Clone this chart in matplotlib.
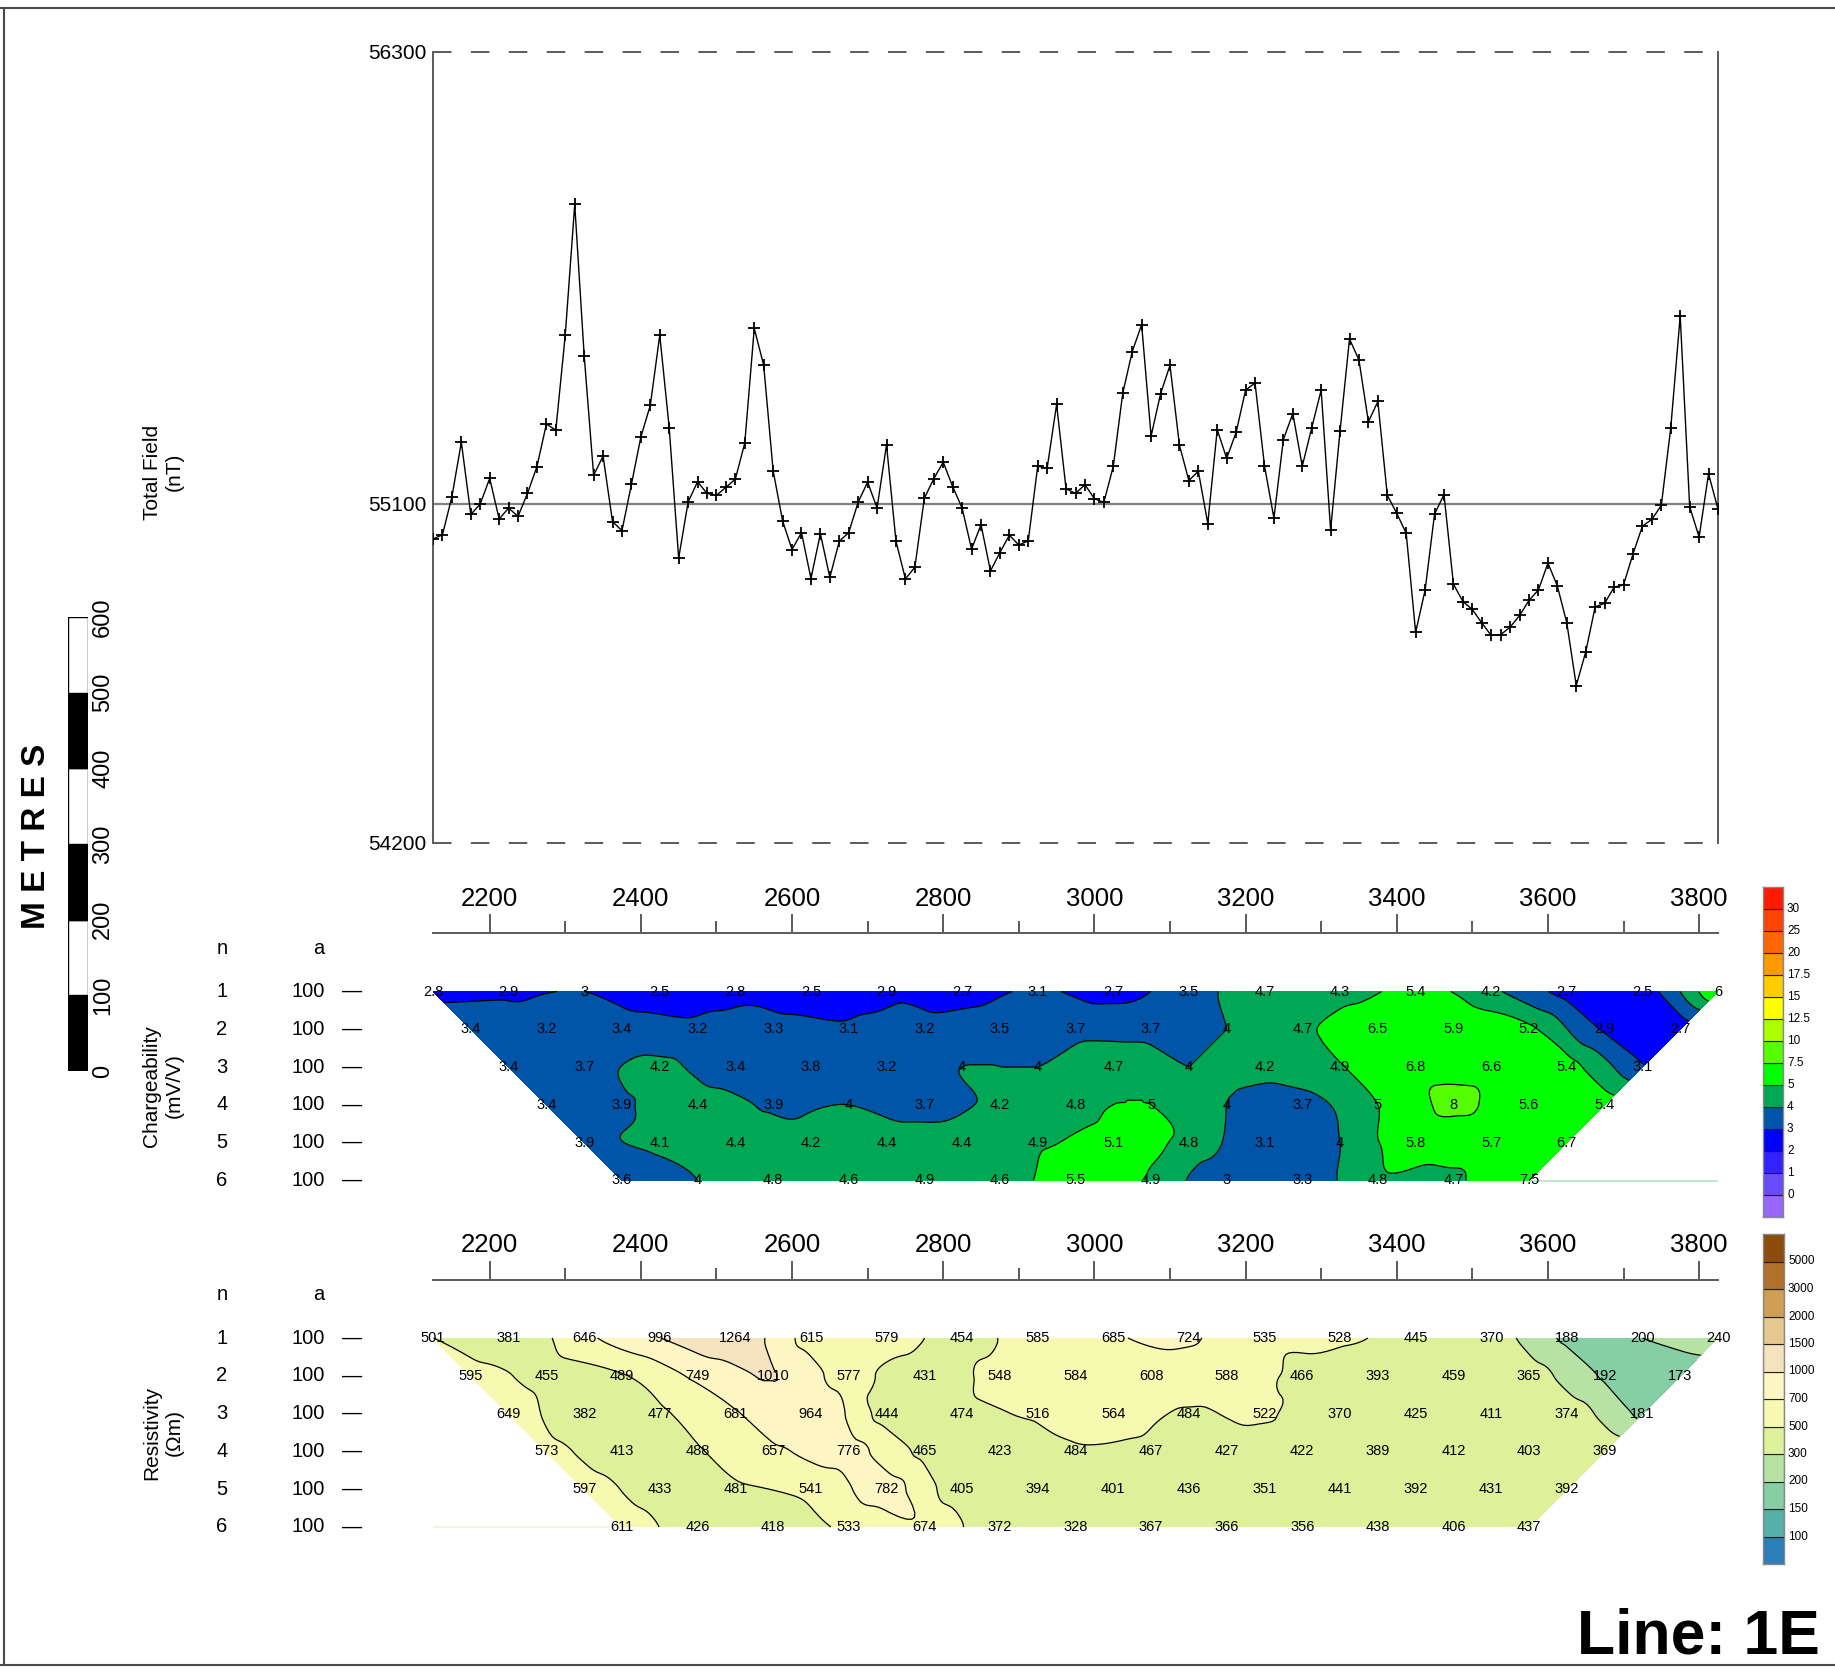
import numpy as np
import matplotlib
matplotlib.use("Agg")
import matplotlib.pyplot as plt
from matplotlib.tri import Triangulation, UniformTriRefiner, CubicTriInterpolator
from matplotlib.colors import ListedColormap, BoundaryNorm
from matplotlib.patches import Rectangle
from matplotlib.lines import Line2D
from matplotlib.ticker import FixedLocator, MultipleLocator

plt.rcParams["font.family"] = ["Liberation Sans", "DejaVu Sans"]
plt.rcParams["lines.scale_dashes"] = False

# ---------------------------------------------------------------- data
# Total magnetic field, readings every 12.5 m starting at station 2125
MAG_START = 2125.0
MAG_STEP = 12.5
mag_nt = [
    55006, 55017, 55118, 55263, 55071, 55099, 55167, 55059, 55088, 55066,
    55127, 55198, 55311, 55295, 55548, 55894, 55493, 55175, 55226, 55052,
    55028, 55151, 55277, 55361, 55547, 55301, 54955, 55104, 55158, 55127,
    55122, 55143, 55165, 55261, 55565, 55467, 55187, 55054, 54978, 55023,
    54901, 55020, 54904, 55000, 55023, 55104, 55157, 55088, 55256, 55000,
    54900, 54931, 55114, 55166, 55210, 55145, 55088, 54979, 55044, 54921,
    54970, 55016, 54990, 55001, 55199, 55194, 55363, 55139, 55127, 55150,
    55113, 55103, 55199, 55393, 55503, 55575, 55279, 55391, 55467, 55255,
    55161, 55186, 55047, 55296, 55220, 55289, 55401, 55420, 55201, 55061,
    55270, 55339, 55199, 55301, 55401, 55030, 55293, 55537, 55481, 55317,
    55371, 55122, 55074, 55021, 54758, 54870, 55072, 55124, 54886, 54840,
    54819, 54783, 54750, 54752, 54772, 54803, 54843, 54871, 54942, 54881,
    54783, 54617, 54706, 54826, 54835, 54878, 54884, 54966, 55040, 55058,
    55095, 55301, 55598, 55092, 55011, 55179, 55085,
]
mag_ticks = [54200, 55100, 56300]
mag_base = 55100

# Dipole-dipole pseudosections (a = 100 m), first n=1 plot point at 2125
SEC_START = 2125.0
chg_n1 = [2.8, 2.9, 3, 2.5, 2.8, 2.5, 2.9, 2.7, 3.1, 2.7, 3.5, 4.7, 4.3, 5.4, 4.2, 2.7, 2.5, 6]
chg_n2 = [3.4, 3.2, 3.4, 3.2, 3.3, 3.1, 3.2, 3.5, 3.7, 3.7, 4, 4.7, 6.5, 5.9, 5.2, 2.9, 2.7]
chg_n3 = [3.4, 3.7, 4.2, 3.4, 3.8, 3.2, 4, 4, 4.7, 4, 4.2, 4.9, 6.8, 6.6, 5.4, 3.1]
chg_n4 = [3.4, 3.9, 4.4, 3.9, 4, 3.7, 4.2, 4.8, 5, 4, 3.7, 5, 8, 5.6, 5.4]
chg_n5 = [3.9, 4.1, 4.4, 4.2, 4.4, 4.4, 4.9, 5.1, 4.8, 3.1, 4, 5.8, 5.7, 6.7]
chg_n6 = [3.6, 4, 4.8, 4.6, 4.9, 4.6, 5.5, 4.9, 3, 3.3, 4.8, 4.7, 7.5]

res_n1 = [501, 381, 646, 996, 1264, 615, 579, 454, 585, 685, 724, 535, 528, 445, 370, 188, 200, 240]
res_n2 = [595, 455, 489, 749, 1010, 577, 431, 548, 584, 608, 588, 466, 393, 459, 365, 192, 173]
res_n3 = [649, 382, 477, 681, 964, 444, 474, 516, 564, 484, 522, 370, 425, 411, 374, 181]
res_n4 = [573, 413, 488, 657, 776, 465, 423, 484, 467, 427, 422, 389, 412, 403, 369]
res_n5 = [597, 433, 481, 541, 782, 405, 394, 401, 436, 351, 441, 392, 431, 392]
res_n6 = [611, 426, 418, 533, 674, 372, 328, 367, 366, 356, 438, 406, 437]

n_labels = ["1", "2", "3", "4", "5", "6"]
a_labels = ["100"] * 6

chg_levels = [0, 1, 2, 3, 4, 5, 7.5, 10, 12.5, 15, 17.5, 20, 25, 30]
chg_colors = ["#9966FF", "#6A4CFF", "#3322FF", "#0000FF", "#0055A8", "#00A855",
              "#00FF00", "#55FF00", "#AAFF00", "#FFFF00", "#FFCC00", "#FF9900",
              "#FF6600", "#FF4400", "#FF1A00"]
res_levels = [100, 150, 200, 300, 500, 700, 1000, 1500, 2000, 3000, 5000]
res_colors = ["#2C7FB8", "#55B0AA", "#86CFA5", "#B6E3A4", "#DFF09B", "#F6F9B0",
              "#FDF6C3", "#F5E3C0", "#E4C88E", "#CF9F55", "#B3702A", "#8B4C0E"]

scale_ticks = [0, 100, 200, 300, 400, 500, 600]
x_major = [2200, 2400, 2600, 2800, 3000, 3200, 3400, 3600, 3800]

# ---------------------------------------------------------------- layout
W, H = 1835, 1677
fig = plt.figure(figsize=(W / 100, H / 100), dpi=100)


def fx(x):
    return x / W


def fy(y):
    return 1 - y / H


def rect(x0, y0, x1, y1):
    return [fx(x0), fy(y1), (x1 - x0) / W, (y1 - y0) / H]


X_LEFT, X_RIGHT = 433, 1718
XMIN, XMAX = 2125, 3825
GREY = "#5a5a5a"

# ---------------------------------------------------------------- magnetics
ax_m = fig.add_axes(rect(X_LEFT, 51.5, X_RIGHT, 842.6))
mag_x = MAG_START + MAG_STEP * np.arange(len(mag_nt))
ax_m.plot(mag_x, mag_nt, color="black", lw=1.0, marker="+", ms=9, mew=1.3, zorder=3)
ax_m.axhline(mag_base, color="#808080", lw=1.6, zorder=2)
for v in (mag_ticks[0], mag_ticks[-1]):
    ln = ax_m.axhline(v, color=GREY, lw=1.4, clip_on=False)
    ln.set_dashes((13.3, 14.0))
ax_m.set_xlim(XMIN, XMAX)
ax_m.set_ylim(mag_ticks[0], mag_ticks[-1])
ax_m.set_xticks([])
ax_m.set_yticks(mag_ticks)
ax_m.set_yticklabels([str(t) for t in mag_ticks], fontsize=15)
ax_m.tick_params(axis="y", length=0, pad=5)
for s in ("top", "bottom"):
    ax_m.spines[s].set_visible(False)
for s in ("left", "right"):
    ax_m.spines[s].set_color(GREY)
    ax_m.spines[s].set_linewidth(1.4)
fig.text(fx(163), fy(472), "Total Field\n(nT)", rotation=90, ha="center", va="center",
         fontsize=15, multialignment="center")


# ---------------------------------------------------------------- pseudosections
def build_section(rows):
    xs, ys, zs, idx = [], [], [], []
    for n, row in enumerate(rows, start=1):
        r = []
        for k, v in enumerate(row):
            r.append(len(xs))
            xs.append(SEC_START + 50 * (n - 1) + 100 * k)
            ys.append(50.0 * n)
            zs.append(v)
        idx.append(r)
    tris = []
    for a, b in zip(idx[:-1], idx[1:]):
        for k in range(len(b)):
            tris.append([a[k], a[k + 1], b[k]])
        for k in range(len(b) - 1):
            tris.append([b[k], b[k + 1], a[k + 1]])
    return np.array(xs, float), np.array(ys, float), np.array(zs, float), np.array(tris)


def smooth_field(xs, ys, field, tris):
    """Cubic interpolation on a refined mesh, kept within each parent triangle's range."""
    tri = Triangulation(xs, ys, tris)
    interp = CubicTriInterpolator(tri, field, kind="geom")
    tri_r, z_r = UniformTriRefiner(tri).refine_field(field, triinterpolator=interp, subdiv=4)
    z_r = np.asarray(z_r, float)
    parent = tri.get_trifinder()(tri_r.x, tri_r.y)
    ok = parent >= 0
    verts = field[tri.triangles[parent[ok]]]
    z_r[ok] = np.clip(z_r[ok], verts.min(axis=1), verts.max(axis=1))
    return tri_r, z_r


def draw_section(axis_y, rows, levels, colors, logscale, fmt, title, artifact):
    row1 = axis_y + 58.5
    bottom_px = axis_y + 267
    ax = fig.add_axes(rect(X_LEFT, axis_y, X_RIGHT, bottom_px))
    ytop = 50 * (1 - (row1 - axis_y) / 37.8)
    ybot = 50 * (1 + (bottom_px - row1) / 37.8)

    xs, ys, zs, tris = build_section(rows)
    field = np.log10(zs) if logscale else zs
    lev = np.log10(levels) if logscale else np.array(levels, float)
    tri_r, z_r = smooth_field(xs, ys, field, tris)

    cmap = ListedColormap(colors[1:-1])
    cmap.set_under(colors[0])
    cmap.set_over(colors[-1])
    norm = BoundaryNorm(lev, cmap.N)
    ax.tricontourf(tri_r, z_r, levels=lev, cmap=cmap, norm=norm, extend="both", zorder=1)
    ax.tricontour(tri_r, z_r, levels=lev, colors="black", linewidths=0.9, zorder=2)

    ax.plot(artifact[0], [300, 300], color=artifact[1], lw=1.3, zorder=1)

    for x, y, v in zip(xs, ys, zs):
        ax.text(x, y, fmt(v), ha="center", va="center", fontsize=10.5, zorder=4)

    ax.set_xlim(XMIN, XMAX)
    ax.set_ylim(ybot, ytop)
    ax.set_yticks([])
    for s in ("left", "right", "bottom"):
        ax.spines[s].set_visible(False)
    ax.spines["top"].set_color(GREY)
    ax.spines["top"].set_linewidth(1.4)
    ax.xaxis.tick_top()
    ax.xaxis.set_major_locator(FixedLocator(x_major))
    ax.xaxis.set_minor_locator(MultipleLocator(100))
    ax.set_xticklabels([str(t) for t in x_major], fontsize=18.5)
    ax.tick_params(axis="x", which="major", direction="out", length=14, width=1.4,
                   color=GREY, pad=2)
    ax.tick_params(axis="x", which="minor", direction="out", length=9, width=1.4,
                   color=GREY)

    # left-hand n / a columns
    fig.text(fx(222), fy(axis_y + 15), "n", ha="center", va="center", fontsize=14.5)
    fig.text(fx(319), fy(axis_y + 15), "a", ha="center", va="center", fontsize=14.5)
    for i, (nl, al) in enumerate(zip(n_labels, a_labels)):
        yy = row1 + 37.8 * i
        fig.text(fx(222), fy(yy), nl, ha="center", va="center", fontsize=14.5)
        fig.text(fx(325), fy(yy), al, ha="right", va="center", fontsize=14.5)
        fig.text(fx(352), fy(yy), "\u2014", ha="center", va="center", fontsize=14.5)
    fig.text(fx(163), fy(row1 + 37.8 * 2.5), title, rotation=90, ha="center", va="center",
             fontsize=15, multialignment="center")
    return ax


draw_section(933, [chg_n1, chg_n2, chg_n3, chg_n4, chg_n5, chg_n6], chg_levels, chg_colors,
             False, lambda v: "%g" % v, "Chargeability\n(mV/V)",
             ([3575, 3825], "#b9e6cf"))
draw_section(1279.5, [res_n1, res_n2, res_n3, res_n4, res_n5, res_n6], res_levels, res_colors,
             True, lambda v: "%d" % v, "Resistivity\n(\u03a9m)",
             ([2125, 2370], "#f3f7cf"))


# ---------------------------------------------------------------- colour bars
def colour_bar(x0, y0, x1, y1, levels, colors):
    ax = fig.add_axes(rect(x0, y0, x1, y1))
    n = len(colors)
    for i, c in enumerate(colors):
        ax.add_patch(Rectangle((0, i), 1, 1, facecolor=c, edgecolor="#202020", lw=0.8))
    ax.set_xlim(0, 1)
    ax.set_ylim(0, n)
    ax.set_xticks([])
    ax.set_yticks([])
    for s in ax.spines.values():
        s.set_color("#888888")
        s.set_linewidth(1.0)
    cell = (y1 - y0) / n
    for i, lv in enumerate(levels):
        yy = y1 - cell * (i + 1)
        fig.text(fx(x1 + 4), fy(yy), "%g" % lv, ha="left", va="center", fontsize=8.5)


colour_bar(1763, 887, 1783, 1217, chg_levels, chg_colors)
colour_bar(1763, 1234, 1784, 1564, res_levels, res_colors)

# ---------------------------------------------------------------- scale bar
ax_s = fig.add_axes(rect(68, 617, 88, 1071))
for i in range(len(scale_ticks) - 1):
    ax_s.add_patch(Rectangle((0, scale_ticks[i]), 1, scale_ticks[i + 1] - scale_ticks[i],
                             facecolor="black" if i % 2 == 0 else "white",
                             edgecolor="black", lw=1.0))
ax_s.set_xlim(0, 1)
ax_s.set_ylim(scale_ticks[0], scale_ticks[-1])
ax_s.axis("off")
for t in scale_ticks:
    yy = 1071 - (1071 - 617) * t / scale_ticks[-1]
    fig.text(fx(103), fy(yy), str(t), rotation=90, ha="center", va="center", fontsize=17)
fig.text(fx(37), fy(836), "M E T R E S", rotation=90, ha="center", va="center",
         fontsize=24, fontweight="bold")

# ---------------------------------------------------------------- title and frame
fig.text(fx(1820), fy(1653), "Line: 1E", ha="right", va="baseline", fontsize=45,
         fontweight="bold")
frame_c = "#4a4a4a"
fig.add_artist(Line2D([0, 1], [fy(8), fy(8)], transform=fig.transFigure, color=frame_c, lw=1.5))
fig.add_artist(Line2D([fx(3.5), fx(3.5)], [fy(8), fy(1665)], transform=fig.transFigure,
                      color=frame_c, lw=1.5))
fig.add_artist(Line2D([0, 1], [fy(1665), fy(1665)], transform=fig.transFigure, color=frame_c,
                      lw=1.5))

fig.savefig("out.png", dpi=100)
